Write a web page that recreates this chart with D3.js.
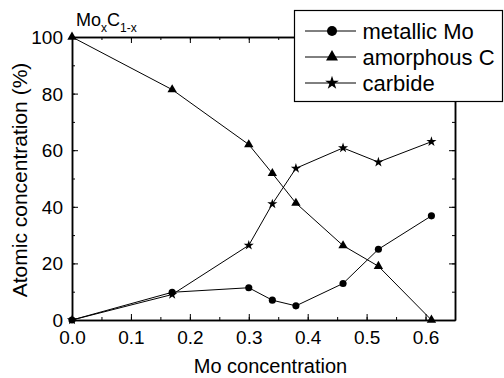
<!DOCTYPE html>
<html>
<head>
<meta charset="utf-8">
<script src="https://cdn.jsdelivr.net/npm/d3@7"></script>
<style>
  body { margin: 0; background: #fff; }
  text { font-family: "Liberation Sans", Arial, sans-serif; fill: #000; }
</style>
</head>
<body>
<svg id="fig" width="504" height="378"></svg>
<script>
// Mo concentration values (x)
const moConc = [0, 0.17, 0.30, 0.34, 0.38, 0.46, 0.52, 0.61];
const metallicMo = [0, 9.8, 11.4, 7.0, 5.0, 12.9, 25.0, 36.8];
const amorphousC = [100, 81.4, 62.0, 51.8, 41.3, 26.3, 19.0, 0];
const carbide = [0, 9.0, 26.4, 41.0, 53.6, 60.8, 55.8, 63.0];
const seriesNames = ['metallic Mo', 'amorphous C', 'carbide'];
const xTicks = [0, 0.1, 0.2, 0.3, 0.4, 0.5, 0.6];
const yTicks = [0, 20, 40, 60, 80, 100];

const svg = d3.select('#fig');
const margin = { top: 37, right: 49, bottom: 58, left: 72 };
const width = 504, height = 378;
const innerWidth = width - margin.left - margin.right;
const innerHeight = height - margin.top - margin.bottom;

const xScale = d3.scaleLinear().domain([0, 0.65]).range([0, innerWidth]);
const yScale = d3.scaleLinear().domain([0, 100]).range([innerHeight, 0]);

const g = svg.append('g').attr('transform', `translate(${margin.left}, ${margin.top})`);

// axes frame with inward ticks (minor + major)
const minorX = d3.range(0, 0.651, 0.05);
const minorY = d3.range(0, 100.1, 10);

const styleAxis = (sel, keepText) => {
    sel.attr('font-size', 19).attr('font-family', null);
    sel.select('.domain').attr('stroke', '#000').attr('stroke-width', 1.5);
    sel.selectAll('.tick line').attr('stroke', '#000').attr('stroke-width', 1);
    if (!keepText) sel.selectAll('.tick text').remove();
};

const addAxis = (axisFn, vals, size, tx, ty, fmt, pad) => {
    const ax = axisFn.tickValues(vals).tickSizeInner(-size).tickSizeOuter(0);
    if (fmt) ax.tickFormat(fmt).tickPadding(pad);
    const sel = g.append('g').attr('transform', `translate(${tx}, ${ty})`).call(ax);
    styleAxis(sel, !!fmt);
    return sel;
};

addAxis(d3.axisBottom(xScale), minorX, 3, 0, innerHeight);
const xAxisGroup = addAxis(d3.axisBottom(xScale), xTicks, 6, 0, innerHeight, d3.format('.1f'), 10);
addAxis(d3.axisTop(xScale), minorX, 3, 0, 0);
addAxis(d3.axisTop(xScale), xTicks, 6, 0, 0);
addAxis(d3.axisLeft(yScale), minorY, 3, 0, 0);
const yAxisGroup = addAxis(d3.axisLeft(yScale), yTicks, 6, 0, 0, d3.format('d'), 9);
addAxis(d3.axisRight(yScale), minorY, 3, innerWidth, 0);
addAxis(d3.axisRight(yScale), yTicks, 6, innerWidth, 0);

xAxisGroup.selectAll('.tick text').attr('y', 23.5).attr('dy', null).attr('fill', '#000');
yAxisGroup.selectAll('.tick text').attr('dy', 6.5).attr('fill', '#000');

// series
const symbols = [d3.symbolCircle, d3.symbolTriangle, d3.symbolStar];
const symSizes = [40, 38, 32];
const legendSizes = [78, 62, 58];
const seriesData = [metallicMo, amorphousC, carbide];
const line = d3.line().x(d => xScale(d[0])).y(d => yScale(d[1]));

seriesData.forEach((vals, i) => {
    const pts = moConc.map((x, j) => [x, vals[j]]);
    g.append('path').datum(pts)
        .attr('d', line)
        .attr('fill', 'none')
        .attr('stroke', '#000')
        .attr('stroke-width', 1);
    g.selectAll('.m' + i).data(pts).join('path')
        .attr('class', 'm' + i)
        .attr('transform', d => `translate(${xScale(d[0])}, ${yScale(d[1])})`)
        .attr('d', d3.symbol().type(symbols[i]).size(symSizes[i]))
        .attr('fill', '#000');
});

// axis titles
svg.append('text')
    .attr('x', margin.left + innerWidth / 2 + 7)
    .attr('y', 373)
    .attr('text-anchor', 'middle')
    .attr('font-size', '20px')
    .text('Mo concentration');

svg.append('text')
    .attr('transform', `translate(27, 180) rotate(-90)`)
    .attr('text-anchor', 'middle')
    .attr('font-size', '21px')
    .text('Atomic concentration (%)');

// formula label
const formula = svg.append('text').attr('x', 76).attr('y', 26).attr('font-size', '18px');
formula.append('tspan').text('Mo');
formula.append('tspan').attr('font-size', '12px').attr('dy', 6).text('x');
formula.append('tspan').attr('dy', -6).text('C');
formula.append('tspan').attr('font-size', '12px').attr('dy', 6).text('1-x');

// legend
const legend = svg.append('g');
legend.append('rect')
    .attr('x', 294.5).attr('y', 10.5)
    .attr('width', 208).attr('height', 91)
    .attr('fill', '#fff').attr('stroke', '#000').attr('stroke-width', 1.2);
const rows = legend.selectAll('.legend').data(seriesNames).join('g')
    .attr('class', 'legend')
    .attr('transform', (d, i) => `translate(305, ${31 + i * 26})`);
rows.append('line')
    .attr('x1', 0).attr('x2', 51)
    .attr('stroke', '#000').attr('stroke-width', 1);
rows.append('path')
    .attr('transform', 'translate(27, 0)')
    .attr('d', (d, i) => d3.symbol().type(symbols[i]).size(legendSizes[i])())
    .attr('fill', '#000');
rows.append('text')
    .attr('x', 57.5)
    .attr('dy', 7.5)
    .attr('font-size', '22px')
    .text(d => d);
</script>
</body>
</html>
